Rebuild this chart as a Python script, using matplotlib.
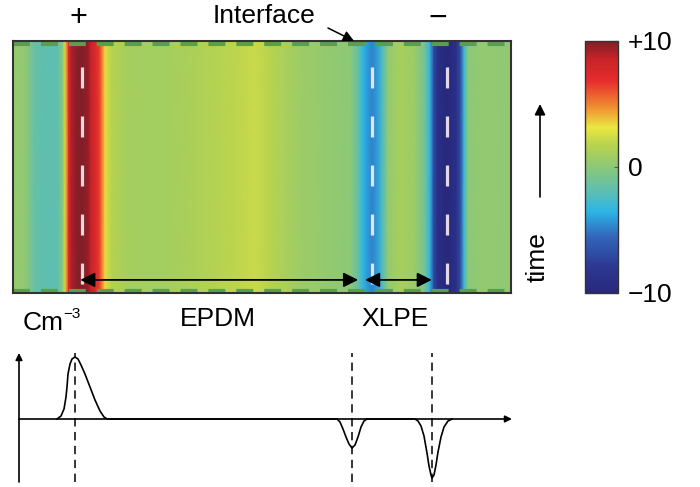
import numpy as np
import matplotlib
matplotlib.use("Agg")
import matplotlib.pyplot as plt
from matplotlib.colors import LinearSegmentedColormap

plt.rcParams['font.family'] = ['Liberation Sans', 'DejaVu Sans']
plt.rcParams['lines.scale_dashes'] = False

# charge profile across the sample (position in % of width, value in C/m^3 scale)
x_pos = [0, 2.4, 4.4, 6.4, 9.0, 10.0, 10.3, 10.6, 11.2, 11.8, 12.7, 13.9, 15.1, 15.7, 16.5,
         17.3, 17.9, 18.5, 19.1, 19.9, 23.5, 29.5, 37.6, 45.6, 48.6, 51.6, 57.6, 63.7, 67.7,
         69.3, 70.3, 71.1, 72.1, 73.1, 74.1, 75.3, 77.7, 80.7, 82.7, 83.7, 84.5, 85.3, 87.1,
         88.9, 89.8, 90.6, 91.4, 93.8, 100]
charge = [0.4, 0.2, -1.5, -1.8, -1.8, 0, 2, 4, 7.5, 9.2, 9.8, 10, 9.6, 8.5, 7.5,
          6.5, 5, 3.5, 2.2, 1.6, 1.0, 0.9, 1.4, 1.9, 2.2, 1.7, 0.7, 0.3, 0,
          -1.5, -3.5, -4.2, -4.8, -4.2, -2.5, 0.3, 1.1, 0.6, -1, -3.5, -7, -9, -10,
          -9, -7, -3, 0, 0.3, 0.2]
time_pts = [0, 1]
electrodes = [13.9, 72.1, 87.1]   # +, interface, -

# sketch of the charge profile below
sk_x = [7.6, 8.4, 9.0, 9.4, 9.6, 9.8, 10.2, 10.6, 11.2, 11.8, 12.4, 13.2, 14.2, 15.2, 16.2, 17.0, 17.6,
        63.6, 64.2, 64.8, 65.4, 66.0, 66.6, 67.2, 67.8, 68.4, 69.0, 69.6,
        79.2, 79.8, 80.4, 81.0, 81.6, 82.0, 82.4, 82.6, 83.0, 83.4, 83.8, 84.4, 85.0, 85.8, 86.6]
sk_y = [0, 3, 10, 22, 32, 45, 55, 60, 62, 60, 54, 45, 32, 19, 8, 2, 0,
        0, -3, -10, -18, -25, -29, -26, -18, -8, -2, 0,
        0, -2, -7, -17, -34, -47, -56, -59, -56, -46, -33, -18, -8, -2, 0]
sk_lines = [11.2, 66.6, 82.6]

cmap = LinearSegmentedColormap.from_list("muted_jet", [
    (0.00, (40/255, 40/255, 125/255)),
    (0.10, (45/255, 55/255, 145/255)),
    (0.22, (50/255, 100/255, 185/255)),
    (0.32, (45/255, 180/255, 230/255)),
    (0.40, (90/255, 190/255, 180/255)),
    (0.50, (140/255, 200/255, 120/255)),
    (0.58, (180/255, 210/255, 80/255)),
    (0.66, (235/255, 230/255, 65/255)),
    (0.74, (240/255, 140/255, 50/255)),
    (0.84, (230/255, 45/255, 45/255)),
    (0.93, (200/255, 35/255, 40/255)),
    (1.00, (130/255, 30/255, 40/255)),
])

W, H = 700, 487
fig = plt.figure(figsize=(7, 4.87), dpi=100)


def fx(px):
    return px / W


def fy(py):
    return 1 - py / H


# heat map
ax = fig.add_axes([fx(13), fy(293), 498 / W, 252 / H])
Z = np.tile(np.array(charge), (len(time_pts), 1))
mesh = ax.pcolormesh(x_pos, time_pts, Z, cmap=cmap, vmin=-10, vmax=10, shading='gouraud')
ax.set_xlim(0, 100)
ax.set_ylim(0, 1)
ax.set_xticks([])
ax.set_yticks([])
for s in ax.spines.values():
    s.set_color('#333333')
    s.set_linewidth(1.5)

for yy in [0.988, 0.008]:
    ax.axhline(yy, color='#5a9e50', lw=3, linestyle=(0, (12.2, 7.9)))
for c in electrodes:
    ax.plot([c, c], [1, 0], color='#f6eef2', lw=2.3, linestyle=(16.6, (15.1, 20.2)), alpha=0.9)

ax.annotate('', xy=(13.5, 0.052), xytext=(69.3, 0.052),
            arrowprops=dict(arrowstyle='<|-|>', color='black', lw=1.3, mutation_scale=22,
                            shrinkA=0, shrinkB=0))
ax.annotate('', xy=(70.7, 0.052), xytext=(84.1, 0.052),
            arrowprops=dict(arrowstyle='<|-|>', color='black', lw=1.3, mutation_scale=22,
                            shrinkA=0, shrinkB=0))

# colour bar
cax = fig.add_axes([fx(585), fy(293), 33 / W, 252 / H])
cb = fig.colorbar(mesh, cax=cax, ticks=[-10, 0, 10])
cb.ax.set_yticklabels(['\u221210', '0', '+10'])
cb.ax.tick_params(direction='in', length=3, width=0.8, color='#555555', labelsize=19, pad=7)
cb.outline.set_edgecolor('#333333')
cb.outline.set_linewidth(1.0)

# labels above and around
fig.text(fx(78), fy(26), '+', fontsize=22, ha='center', va='baseline')
fig.text(fx(438), fy(27), '\u2212', fontsize=23, ha='center', va='baseline')
fig.text(fx(264), fy(16), 'Interface', fontsize=19, ha='center', va='center')
ax.annotate('', xy=(fx(354), fy(41)), xytext=(fx(328), fy(28)), xycoords='figure fraction',
            annotation_clip=False,
            arrowprops=dict(arrowstyle='-|>', color='black', lw=1.1, mutation_scale=16,
                            shrinkA=0, shrinkB=0))
ax.annotate('', xy=(fx(540), fy(104)), xytext=(fx(540), fy(197)), xycoords='figure fraction',
            annotation_clip=False,
            arrowprops=dict(arrowstyle='-|>', color='black', lw=1.2, mutation_scale=16,
                            shrinkA=0, shrinkB=0))
fig.text(fx(538), fy(257), 'time', fontsize=19, rotation=90, ha='center', va='center')

fig.text(fx(218), fy(319), 'EPDM', fontsize=19, ha='center', va='center')
fig.text(fx(395), fy(319), 'XLPE', fontsize=19, ha='center', va='center')
fig.text(fx(23), fy(330), 'Cm', fontsize=19, ha='left', va='baseline')
fig.text(fx(63), fy(318), '\u22123', fontsize=11, ha='left', va='baseline')

# sketch of the profile
lax = fig.add_axes([fx(19), 0, 500 / W, 147 / H])
lax.set_xlim(0, 100)
lax.set_ylim(-68, 79)
lax.axis('off')
lax.plot(sk_x, sk_y, color='black', lw=1.2, clip_on=False)
for c in sk_lines:
    lax.plot([c, c], [-63, 66], color='black', lw=1.1, linestyle=(0, (6, 4)), clip_on=False)
lax.annotate('', xy=(0, 66), xytext=(0, -63), annotation_clip=False,
             arrowprops=dict(arrowstyle='-|>', color='black', lw=1.2, mutation_scale=10,
                             shrinkA=0, shrinkB=0))
lax.annotate('', xy=(98.6, 0), xytext=(0, 0), annotation_clip=False,
             arrowprops=dict(arrowstyle='-|>', color='black', lw=1.2, mutation_scale=10,
                             shrinkA=0, shrinkB=0))

fig.savefig('out.png', dpi=100)
